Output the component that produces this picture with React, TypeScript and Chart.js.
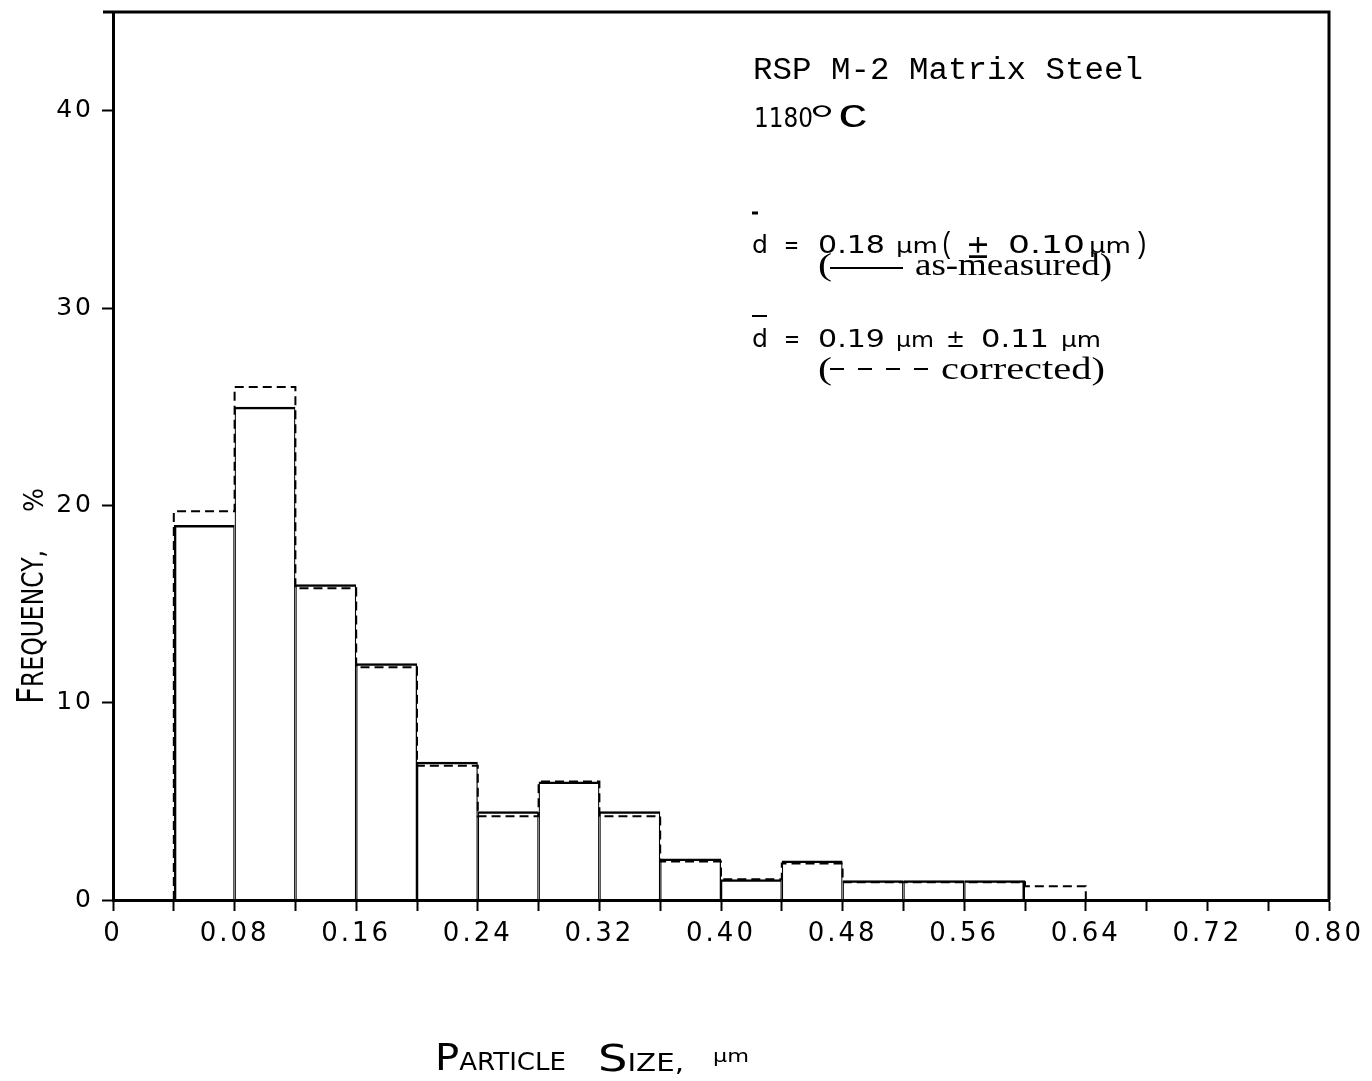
import React, { useEffect, useRef } from 'react';
import { Chart, registerables } from 'chart.js';

Chart.register(...registerables);

// Size classes (µm): lower edge of each bin, constant bin width
const binStarts = [0.04, 0.08, 0.12, 0.16, 0.2, 0.24, 0.28, 0.32, 0.36, 0.4, 0.44, 0.48, 0.52, 0.56, 0.6];
const binWidth = 0.04;

// Frequency (%) as measured – solid outline
const asMeasured = [19.0, 25.0, 16.0, 12.0, 7.0, 4.5, 6.0, 4.5, 2.1, 1.05, 2.0, 1.0, 1.0, 1.0];

// Frequency (%) after correction – dashed outline
const corrected = [19.7, 26.0, 15.8, 11.8, 6.8, 4.25, 6.0, 4.25, 1.95, 1.05, 1.85, 0.9, 0.9, 0.9, 0.7];

// Axis ticks
const xTicks = [0, 0.04, 0.08, 0.12, 0.16, 0.2, 0.24, 0.28, 0.32, 0.36, 0.4, 0.44, 0.48, 0.52, 0.56, 0.6, 0.64, 0.68, 0.72, 0.76, 0.8];
const xTickLabels = ['0', '', '0.08', '', '0.16', '', '0.24', '', '0.32', '', '0.40', '', '0.48', '', '0.56', '', '0.64', '', '0.72', '', '0.80'];
const yTicks = [0, 10, 20, 30, 40];
const yTickLabels = ['0', '10', '20', '30', '40'];
const xMin = 0;
const xMax = 0.8;
const yMin = 0;
const yMax = 45;

const SANS = '"DejaVu Sans", sans-serif';
const MONO = '"Liberation Mono", "DejaVu Sans Mono", monospace';
const SERIF = '"Liberation Serif", "DejaVu Serif", serif';

type Ctx = CanvasRenderingContext2D;

// Draw text squeezed/stretched so that it spans x0..x1
function fitText(ctx: Ctx, text: string, x0: number, x1: number, baseline: number, font: string) {
  ctx.save();
  ctx.font = font;
  const w = ctx.measureText(text).width || 1;
  ctx.translate(x0, baseline);
  ctx.scale((x1 - x0) / w, 1);
  ctx.textAlign = 'left';
  ctx.textBaseline = 'alphabetic';
  ctx.fillText(text, 0, 0);
  ctx.restore();
}

// Small-caps word: first letter large, the rest small capitals
function capsWord(ctx: Ctx, word: string, x0: number, x1: number, baseline: number, bigFont: string, smallFont: string) {
  ctx.save();
  ctx.font = bigFont;
  const w1 = ctx.measureText(word[0]).width;
  ctx.font = smallFont;
  const w2 = ctx.measureText(word.slice(1)).width;
  ctx.translate(x0, baseline);
  ctx.scale((x1 - x0) / (w1 + w2), 1);
  ctx.textAlign = 'left';
  ctx.textBaseline = 'alphabetic';
  ctx.font = bigFont;
  ctx.fillText(word[0], 0, 0);
  ctx.font = smallFont;
  ctx.fillText(word.slice(1), w1, 0);
  ctx.restore();
}

function hLine(ctx: Ctx, x0: number, x1: number, y: number, w: number, dash: number[] = []) {
  ctx.save();
  ctx.strokeStyle = '#000';
  ctx.lineWidth = w;
  ctx.setLineDash(dash);
  ctx.beginPath();
  ctx.moveTo(x0, y);
  ctx.lineTo(x1, y);
  ctx.stroke();
  ctx.restore();
}

const paperPlugin = {
  id: 'paper',
  beforeDraw(chart: any) {
    const { ctx, width, height } = chart;
    ctx.save();
    ctx.fillStyle = '#fff';
    ctx.fillRect(0, 0, width, height);
    ctx.restore();
    // wide-set lettering for the tick labels
    ctx.letterSpacing = '3px';
  },
  beforeDatasetsDraw(chart: any) {
    chart.ctx.letterSpacing = '0px';
  },
  afterDraw(chart: any) {
    const ctx: Ctx = chart.ctx;
    const a = chart.chartArea;
    (ctx as any).letterSpacing = '0px';
    ctx.save();
    ctx.fillStyle = '#000';

    // frame: top and right edges
    ctx.strokeStyle = '#000';
    ctx.lineWidth = 3;
    ctx.beginPath();
    ctx.moveTo(a.left - 10, a.top);
    ctx.lineTo(a.right, a.top);
    ctx.lineTo(a.right, a.bottom);
    ctx.stroke();

    // x-axis title
    capsWord(ctx, 'PARTICLE', 435, 566, 1070, `37px ${SANS}`, `24px ${SANS}`);
    capsWord(ctx, 'SIZE,', 598, 684, 1071, `38px ${SANS}`, `24px ${SANS}`);
    fitText(ctx, 'µm', 713, 749, 1062, `18px ${SANS}`);

    // y-axis title (rotated)
    ctx.save();
    ctx.translate(43, 704);
    ctx.rotate(-Math.PI / 2);
    capsWord(ctx, 'FREQUENCY,', 0, 154, 0, `38px ${SANS}`, `30px ${SANS}`);
    fitText(ctx, '%', 192, 216, 0, `26px ${SANS}`);
    ctx.restore();

    // specimen note
    fitText(ctx, 'RSP M-2 Matrix Steel', 753, 1143, 79, `31px ${MONO}`);
    fitText(ctx, '1180', 754, 813, 127, `26px ${SANS}`);
    fitText(ctx, '°', 810, 834, 131, `38px ${SERIF}`);
    fitText(ctx, 'C', 838, 868, 127, `34px ${MONO}`);

    // mean size, as measured
    hLine(ctx, 752, 758, 213, 3);
    fitText(ctx, 'd', 752, 768, 253, `25px ${SANS}`);
    fitText(ctx, '=', 784, 799, 253, `24px ${SANS}`);
    fitText(ctx, '0.18', 818, 885, 253, `24px ${SANS}`);
    fitText(ctx, 'µm', 896, 938, 253, `22px ${SANS}`);
    fitText(ctx, '(', 940, 954, 253, `30px ${MONO}`);
    fitText(ctx, '±', 966, 990, 258, `34px ${SANS}`);
    fitText(ctx, '0.10', 1008, 1085, 253, `24px ${SANS}`);
    fitText(ctx, 'µm', 1089, 1131, 253, `22px ${SANS}`);
    fitText(ctx, ')', 1134, 1149, 253, `30px ${MONO}`);
    fitText(ctx, '(', 818, 832, 275, `31px ${SERIF}`);
    hLine(ctx, 830, 903, 268, 2);
    fitText(ctx, 'as-measured)', 915, 1112, 275, `31px ${SERIF}`);

    // mean size, corrected
    hLine(ctx, 752, 767, 316, 2);
    fitText(ctx, 'd', 752, 768, 347, `25px ${SANS}`);
    fitText(ctx, '=', 784, 800, 347, `24px ${SANS}`);
    fitText(ctx, '0.19', 818, 885, 347, `24px ${SANS}`);
    fitText(ctx, 'µm', 896, 934, 347, `22px ${SANS}`);
    fitText(ctx, '±', 946, 965, 347, `24px ${SANS}`);
    fitText(ctx, '0.11', 981, 1049, 347, `24px ${SANS}`);
    fitText(ctx, 'µm', 1061, 1101, 347, `22px ${SANS}`);
    fitText(ctx, '(', 818, 832, 379, `31px ${SERIF}`);
    hLine(ctx, 830, 928, 369, 2, [14, 14]);
    fitText(ctx, 'corrected)', 941, 1105, 379, `31px ${SERIF}`);

    ctx.restore();
  },
};

export default function App() {
  const canvasRef = useRef<HTMLCanvasElement | null>(null);

  useEffect(() => {
    const canvas = canvasRef.current;
    if (!canvas) return;

    const measuredBars = asMeasured.map((v, i) => ({ x: binStarts[i] + binWidth / 2, y: v }));
    const last = corrected.length - 1;
    const correctedOutline = [
      { x: binStarts[0], y: 0 },
      ...corrected.map((v, i) => ({ x: binStarts[i], y: v })),
      { x: binStarts[last] + binWidth, y: 0 },
    ];

    const tickFont = (size: number) => ({ family: SANS, size });

    const chart = new Chart(canvas, {
      type: 'bar',
      data: {
        datasets: [
          {
            type: 'line',
            label: 'corrected',
            data: correctedOutline,
            borderColor: '#000',
            borderWidth: 2,
            borderDash: [9, 5],
            stepped: true,
            pointRadius: 0,
            fill: false,
            order: 1,
          } as any,
          {
            type: 'bar',
            label: 'as-measured',
            data: measuredBars,
            backgroundColor: 'rgba(0,0,0,0)',
            borderColor: '#000',
            borderWidth: (c: any) => ({
              top: 2.5,
              bottom: 0,
              left: c.dataIndex === 0 ? 2.5 : 1.25,
              right: c.dataIndex === asMeasured.length - 1 ? 2.5 : 1.25,
            }),
            borderSkipped: 'start',
            barPercentage: 1,
            categoryPercentage: 1,
            inflateAmount: 0,
            order: 2,
          } as any,
        ],
      },
      options: {
        responsive: false,
        animation: false,
        events: [],
        layout: { padding: { top: 12, right: 43, bottom: 0, left: 0 } },
        plugins: {
          legend: { display: false },
          tooltip: { enabled: false },
          title: { display: false },
        },
        scales: {
          x: {
            type: 'linear',
            min: xMin,
            max: xMax,
            offset: false,
            afterBuildTicks: (s: any) => {
              s.ticks = xTicks.map((v) => ({ value: v }));
            },
            afterFit: (s: any) => {
              s.height = 181;
              s.paddingLeft = 0;
              s.paddingRight = 0;
            },
            ticks: {
              callback: (_v: any, i: number) => xTickLabels[i],
              autoSkip: false,
              maxRotation: 0,
              minRotation: 0,
              color: '#000',
              font: tickFont(26),
              padding: 8,
            },
            grid: {
              display: true,
              offset: false,
              drawOnChartArea: false,
              drawTicks: true,
              tickLength: 11,
              tickWidth: 2,
              tickColor: '#000',
              color: '#000',
            },
            border: { display: true, color: '#000', width: 3 },
          },
          y: {
            type: 'linear',
            min: yMin,
            max: yMax,
            afterBuildTicks: (s: any) => {
              s.ticks = yTicks.map((v) => ({ value: v }));
            },
            afterFit: (s: any) => {
              s.width = 113;
              s.paddingTop = 0;
              s.paddingBottom = 0;
            },
            ticks: {
              callback: (_v: any, i: number) => yTickLabels[i],
              color: '#000',
              font: tickFont(25),
              padding: 8,
            },
            grid: {
              display: true,
              drawOnChartArea: false,
              drawTicks: true,
              tickLength: 11,
              tickWidth: 2,
              tickColor: '#000',
              color: '#000',
            },
            border: { display: true, color: '#000', width: 3 },
          },
        },
      } as any,
      plugins: [paperPlugin],
    });

    return () => chart.destroy();
  }, []);

  return (
    <div style={{ position: 'fixed', left: 0, top: 0, width: 1372, height: 1081, background: '#fff' }}>
      <canvas ref={canvasRef} width={1372} height={1081} style={{ display: 'block' }} />
    </div>
  );
}
